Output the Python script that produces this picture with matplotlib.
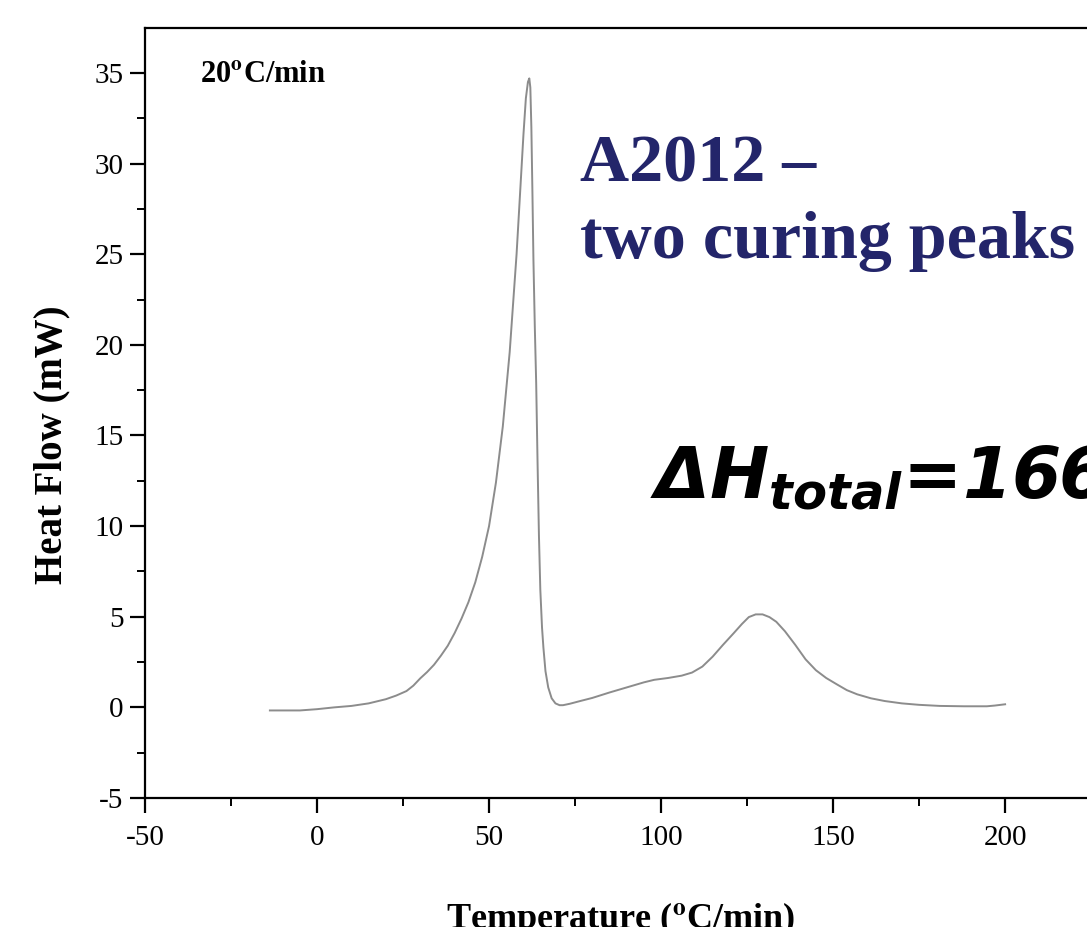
import matplotlib
matplotlib.use('Agg')
import matplotlib.pyplot as plt
from matplotlib.ticker import MultipleLocator

# DSC curve: temperature and heat flow
temp = [-13.7, -5.0, 0.0, 5.0, 10.0, 15.0, 20.0, 23.0, 26.0, 28.0, 30.0,
        32.0, 34.0, 36.0, 38.0, 40.0, 42.0, 44.0, 46.0, 48.0, 50.0, 52.0,
        54.0, 56.0, 58.0, 59.0, 60.0, 60.7, 61.3, 61.7, 62.0, 62.3, 62.6,
        62.9, 63.3, 63.7, 64.1, 64.5, 64.9, 65.4, 65.8, 66.4, 67.2, 68.2,
        69.3, 70.5, 71.5, 73.5, 76.5, 80.0, 85.0, 90.0, 95.0, 98.0, 102.0,
        106.0, 109.0, 112.0, 115.0, 118.0, 121.0, 123.5, 125.5, 127.5,
        129.5, 131.5, 133.5, 136.0, 139.0, 142.0, 145.0, 148.0, 151.0,
        154.0, 157.0, 161.0, 165.0, 170.0, 175.0, 181.0, 188.0, 194.7,
        197.0, 200.0]
heat_flow = [-0.17, -0.17, -0.1, 0.0, 0.08, 0.22, 0.45, 0.65, 0.9, 1.2, 1.6,
             1.95, 2.35, 2.85, 3.4, 4.1, 4.9, 5.8, 6.9, 8.3, 10.0, 12.4,
             15.5, 19.6, 25.0, 28.3, 31.6, 33.6, 34.5, 34.7, 34.2, 32.0, 28.5,
             24.7, 21.0, 17.9, 13.5, 9.5, 6.5, 4.4, 3.3, 2.0, 1.1, 0.5,
             0.22, 0.12, 0.12, 0.2, 0.35, 0.52, 0.82, 1.1, 1.38, 1.52, 1.62,
             1.75, 1.92, 2.25, 2.8, 3.45, 4.07, 4.6, 4.98, 5.13,
             5.13, 4.98, 4.72, 4.2, 3.45, 2.65, 2.05, 1.62, 1.28,
             0.95, 0.72, 0.5, 0.35, 0.22, 0.14, 0.08, 0.06, 0.06,
             0.1, 0.17]

x_ticks = [-50, 0, 50, 100, 150, 200]
y_ticks = [-5, 0, 5, 10, 15, 20, 25, 30, 35]

plt.rcParams['axes.unicode_minus'] = False
plt.rcParams['mathtext.fontset'] = 'custom'
plt.rcParams['mathtext.rm'] = 'DejaVu Sans:bold:italic'
plt.rcParams['mathtext.it'] = 'DejaVu Sans:bold:italic'
plt.rcParams['mathtext.bf'] = 'DejaVu Sans:bold:italic'

W, H = 1087, 927
fig = plt.figure(figsize=(W / 100, H / 100), dpi=100)
ax = fig.add_axes([145 / W, 129 / H, 1 - 145 / W, (798 - 28) / H])

ax.plot(temp, heat_flow, color='#8c8c8c', lw=1.4)

ax.set_xlim(-50, 223.8)
ax.set_ylim(-5, 37.48)
ax.set_xticks(x_ticks)
ax.set_yticks(y_ticks)
ax.xaxis.set_minor_locator(MultipleLocator(25))
ax.yaxis.set_minor_locator(MultipleLocator(2.5))
ax.spines['right'].set_visible(False)
for s in ['left', 'bottom', 'top']:
    ax.spines[s].set_linewidth(1.6)
ax.tick_params(which='major', direction='out', length=10.5, width=1.6)
ax.tick_params(which='minor', direction='out', length=5.5, width=1.4)
ax.tick_params(axis='x', which='major', pad=9)
ax.tick_params(axis='y', which='major', pad=5)
for lab in ax.get_xticklabels() + ax.get_yticklabels():
    lab.set_fontfamily('Liberation Serif')
    lab.set_fontsize(21)

serif = 'Liberation Serif'

# axis labels
fig.text(52 / W, 1 - 445 / H, 'Heat Flow (mW)', rotation=90, ha='center',
         va='center', fontsize=28, fontweight='bold', family=serif)
fig.text(621 / W, 1 - 928 / H, r'Temperature ($^{\mathbf{o}}$C/min)',
         ha='center', va='baseline', fontsize=26, fontweight='bold',
         family=serif, math_fontfamily='stix')

fig.text(200 / W, 1 - 82 / H, r'20$^{\mathbf{o}}$C/min', ha='left',
         va='baseline', fontsize=22, fontweight='bold', family=serif,
         math_fontfamily='stix')

# annotation texts
navy = '#23256a'
fig.text(580 / W, 1 - 182 / H, 'A2012 \u2013', ha='left', va='baseline',
         fontsize=49, fontweight='bold', family=serif, color=navy)
fig.text(580 / W, 1 - 258 / H, 'two curing peaks', ha='left', va='baseline',
         fontsize=49, fontweight='bold', family=serif, color=navy)

fig.text(650 / W, 1 - 498 / H, r'$\Delta H_{total}$=166', ha='left',
         va='baseline', fontsize=51, fontweight='bold', style='italic',
         family='DejaVu Sans', color='black', math_fontfamily='custom')

fig.savefig('out.png', dpi=100)
